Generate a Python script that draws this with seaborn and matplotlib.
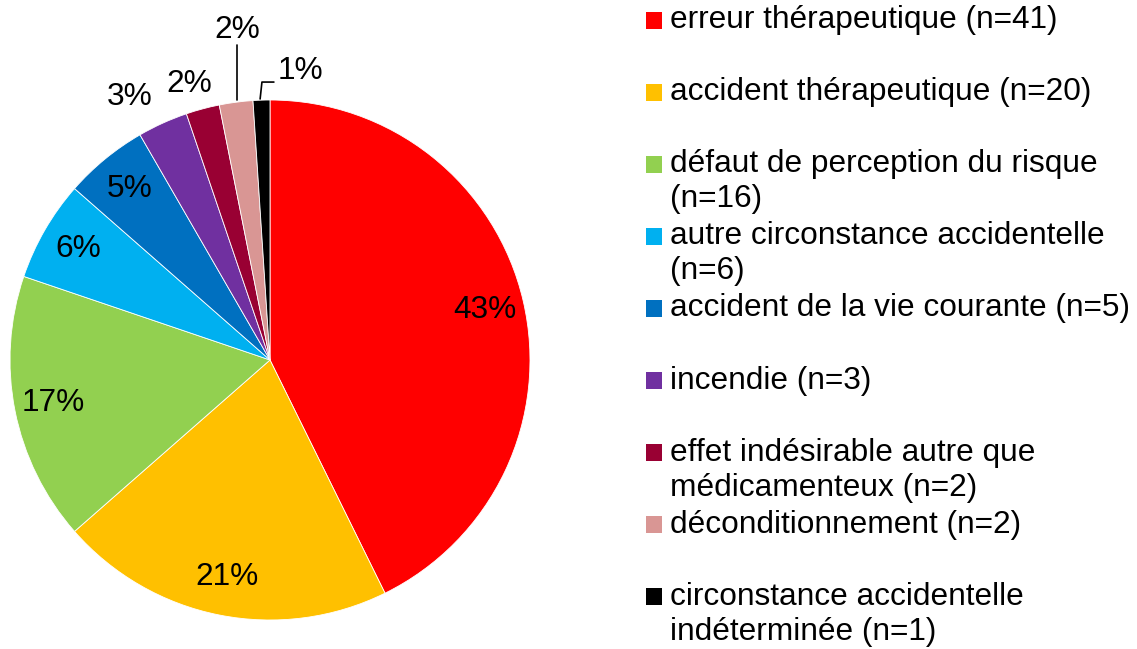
import numpy as np
import seaborn as sns
import matplotlib
matplotlib.use("Agg")
from matplotlib import pyplot as plt
from matplotlib.patches import Rectangle

# data
categories = [
    "erreur thérapeutique (n=41)",
    "accident thérapeutique (n=20)",
    "défaut de perception du risque\n(n=16)",
    "autre circonstance accidentelle\n(n=6)",
    "accident de la vie courante (n=5)",
    "incendie (n=3)",
    "effet indésirable autre que\nmédicamenteux (n=2)",
    "déconditionnement (n=2)",
    "circonstance accidentelle\nindéterminée (n=1)",
]
counts = [41, 20, 16, 6, 5, 3, 2, 2, 1]
colors = ["#FF0000", "#FFC000", "#92D050", "#00B0F0", "#0070C0",
          "#7030A0", "#990033", "#D99694", "#000000"]

sns.set_theme(style="white")
plt.rcParams['font.family'] = ['Liberation Sans', 'DejaVu Sans']

W, H = 1137, 649
fig = plt.figure(figsize=(W / 100, H / 100), dpi=100)

# pie box in pixels: centre (270, 360), radius 260
cx, cy, r = 270, 360, 260
ax = fig.add_axes([(cx - r) / W, (H - cy - r) / H, 2 * r / W, 2 * r / H])

wedges, _ = ax.pie(counts, colors=colors, startangle=90, counterclock=False,
                   radius=1, wedgeprops=dict(edgecolor="white", linewidth=0.6))
ax.set_xlim(-1, 1)
ax.set_ylim(-1, 1)
ax.set_aspect("equal")
ax.axis("off")

total = sum(counts)
pcts = [f"{round(100 * c / total):.0f}%" for c in counts]
fs = 22.8

# label placement: inside labels at 0.85 radius on the slice middle,
# the small slices get labels outside the pie
outside = {
    5: (-0.54, 1.01, "center"),
    6: (-0.31, 1.06, "center"),
    7: (-0.127, 1.27, "center"),
    8: (0.028, 1.11, "left"),
}
for i, (w, p) in enumerate(zip(wedges, pcts)):
    if i in outside:
        x, y, ha = outside[i]
    else:
        ang = np.deg2rad((w.theta1 + w.theta2) / 2)
        x, y, ha = 0.85 * np.cos(ang), 0.85 * np.sin(ang), "center"
    ax.text(x, y, p, ha=ha, va="center", fontsize=fs, color="black")

# leader lines
ax.plot([-0.127, -0.127], [1.0, 1.21], color="black", lw=1.2, clip_on=False)
ax.plot([-0.038, -0.031, 0.015], [1.004, 1.069, 1.069], color="black",
        lw=1.2, clip_on=False)

# legend drawn by hand, evenly spaced slots as in the original
slot0, pitch, lh = 20, 72.1, 35
for i, (lab, col) in enumerate(zip(categories, colors)):
    yc = slot0 + pitch * i
    fig.patches.append(Rectangle(((646) / W, (H - yc - 8.5) / H), 16 / W, 17 / H,
                                 transform=fig.transFigure, facecolor=col,
                                 edgecolor="none"))
    for j, line in enumerate(lab.split("\n")):
        fig.text(670 / W, (H - yc - lh * j) / H, line, ha="left",
                 va="center", fontsize=fs, color="black")

fig.savefig("out.png", dpi=100, facecolor="white")
